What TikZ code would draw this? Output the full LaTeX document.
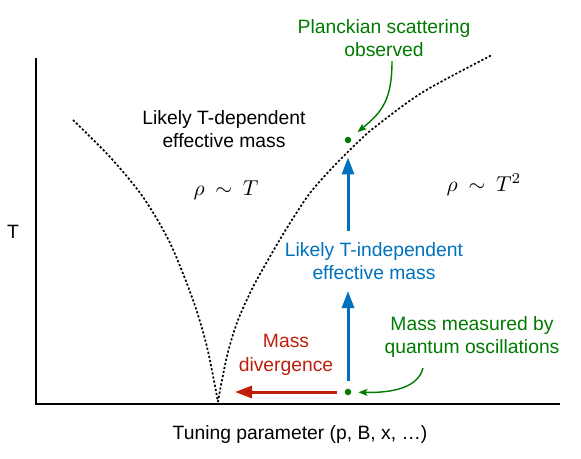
\documentclass[tikz,border=0pt]{standalone}
\usepackage{amsmath,amssymb}
\usepackage{fontspec}
\setmainfont{Liberation Sans}
\usepackage{tikz}
\usetikzlibrary{
  arrows.meta,
  positioning,
  calc
}
\definecolor{qgreen}{RGB}{0,122,0}
\definecolor{qblue}{RGB}{0,114,189}
\definecolor{qred}{RGB}{190,30,10}
\tikzset{
  lbl/.style={align=center, inner sep=0pt,
    font=\fontsize{19.3}{23.5}\selectfont},
  mathlbl/.style={inner sep=0pt},
  qdot/.style={circle, fill=qgreen, inner sep=0pt, minimum size=6.5pt},
  crossover/.style={line width=1.7pt, dash pattern=on 2.2pt off 2pt},
  bigarr/.style={-{Triangle[length=17pt, width=12pt]}, line width=3pt},
  thinarr/.style={-{Stealth[length=9pt, width=7pt, inset=2pt]},
    line width=1.4pt, qgreen},
}
\newcommand{\rholaw}[1]{\scalebox{2.15}{$\rho\mskip4mu\sim\mskip4mu #1$}}

\begin{document}
\begin{tikzpicture}[x=1pt, y=-1pt]
  \useasboundingbox (0,0) rectangle (581,458);

  % axes
  \coordinate (origin) at (36,404);
  \coordinate (ytop) at (36,58);
  \coordinate (xend) at (560,404);
  \coordinate (qcp) at (218,404);
  \draw[line width=1.5pt] (ytop) -- (origin) -- (xend);
  \node[lbl] (xlab) at (300,435) {Tuning parameter (p, B, x, \dots)};
  \node[lbl] (ylab) at (13,232) {T};

  % crossover lines
  \draw[crossover] plot[smooth] coordinates {(73,120) (110,157) (143,197)
    (170,243) (193,300) (207,347) (218,402)};
  \draw[crossover] plot[smooth] coordinates {(218,402) (221,385) (228,352)
    (238,320) (253,287) (272,253) (290,223) (310,193) (333,167) (357,143)
    (375,127) (423,92) (492,55)};

  % regions
  \node[lbl] (tdep) at (224,129) {Likely T-dependent\\effective mass};
  \node[mathlbl] (linT) at (226,190) {\rholaw{T}};
  \node[mathlbl] (sqT) at (484,185) {\rholaw{T^2}};

  % measurements
  \node[qdot] (pdot) at (348,140) {};
  \node[qdot] (qodot) at (348,392) {};
  \node[lbl, text=qgreen] (planck) at (384,38) {Planckian scattering\\observed};
  \node[lbl, text=qgreen] (qolab) at (472,337) {Mass measured by\\quantum oscillations};
  \node[lbl, text=qblue] (tindep) at (374,261) {Likely T-independent\\effective mass};
  \node[lbl, text=qred] (massdiv) at (286,355) {Mass\\divergence};
  \coordinate (qotail) at (423,368);

  % arrows
  \draw[bigarr, qblue, shorten <=8pt]
    (qodot) -- ([yshift=-11pt]tindep.south -| qodot);
  \draw[bigarr, qblue, shorten >=14pt]
    ([yshift=11pt]tindep.north -| qodot) -- (pdot);
  \draw[bigarr, qred, shorten <=8pt, shorten >=17pt]
    (qodot) -- (qodot -| qcp);
  \draw[thinarr, shorten >=9pt]
    ([xshift=8pt,yshift=-4pt]planck.south) .. controls (392,100) and (382,112) .. (pdot);
  \draw[thinarr, shorten >=7pt]
    (qotail) .. controls (418,388) and (392,393) .. (qodot);
\end{tikzpicture}
\end{document}
